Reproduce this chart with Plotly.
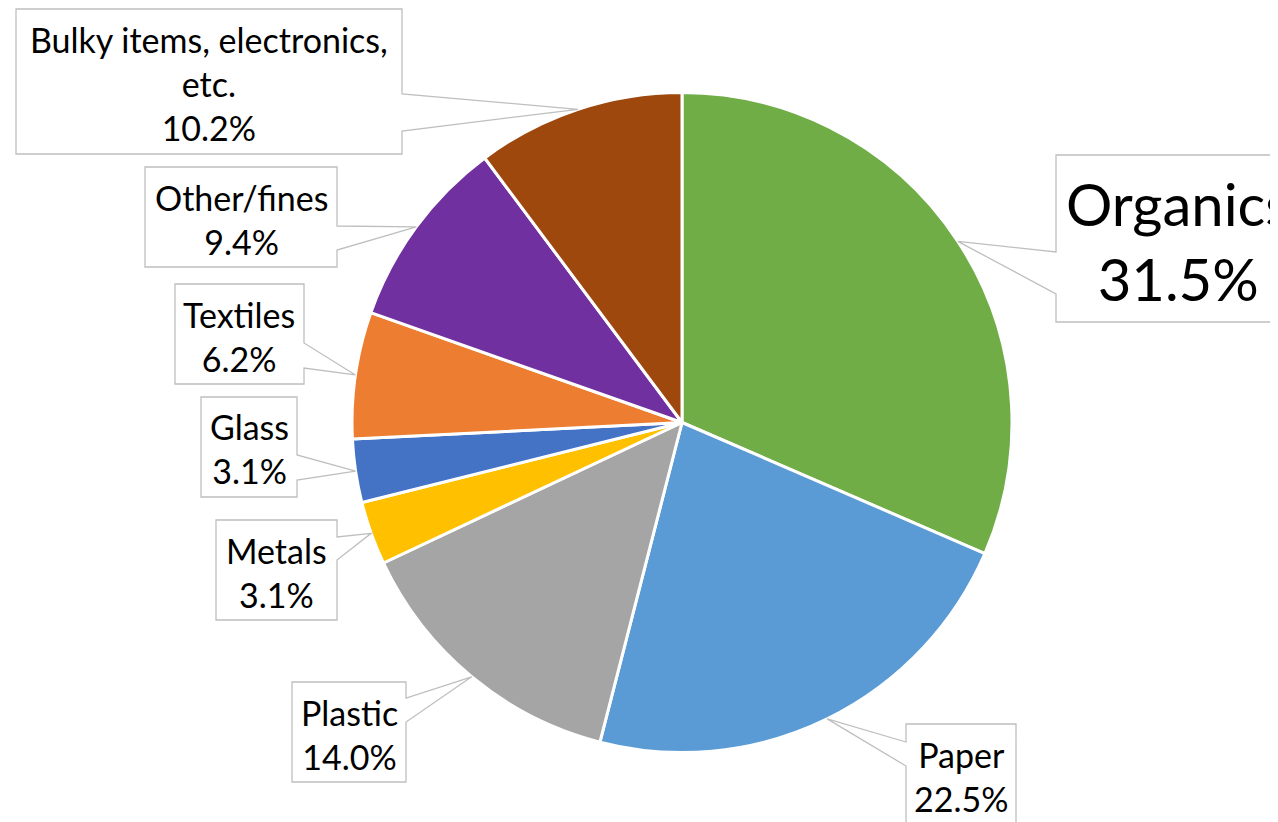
import math
import plotly.graph_objects as go

# ---- data ----
categories = ["Organics", "Paper", "Plastic", "Metals", "Glass", "Textiles", "Other/fines",
              "Bulky items, electronics, etc."]
label_names = ["Organics", "Paper", "Plastic", "Metals", "Glass", "Textiles", "Other/fines",
               "Bulky items, electronics,<br>etc."]
values = [31.5, 22.5, 14.0, 3.1, 3.1, 6.2, 9.4, 10.2]
colors = ["#70AD47", "#5B9BD5", "#A5A5A5", "#FFC000", "#4472C4", "#ED7D31", "#7030A0", "#9E480E"]

# ---- layout constants (pixels, in window coordinates) ----
WIN_W, WIN_H = 1278, 822
OFF = 8  # page body margin
W, H = WIN_W - OFF, WIN_H - OFF
CX, CY, R = 682, 422.5, 330

# callout boxes: (x0, y0, x1, y1), side of wedge, wedge base (a, b), font size
callouts = {
    "Organics": ((1056, 155, 1300, 322), "left", (252, 294), 58),
    "Paper": ((906, 724, 1016, 824), "left", (742, 766), 34),
    "Plastic": ((292, 682, 406, 782), "right", (698, 722), 34),
    "Metals": ((216, 520, 337, 620), "right", (537, 560), 34),
    "Glass": ((201, 397, 297, 497), "right", (455, 480), 34),
    "Textiles": ((175, 284, 304, 384), "right", (343, 368), 34),
    "Other/fines": ((145, 167, 337, 267), "right", (226, 250), 34),
    "Bulky items, electronics, etc.": ((16, 9, 402, 154), "right", (94, 131), 34),
}

def px(x):
    return (x - OFF) / W

def py(y):
    return 1 - (y - OFF) / H

fig = go.Figure(go.Pie(
    labels=categories,
    values=values,
    sort=False,
    direction="clockwise",
    rotation=0,
    marker=dict(colors=colors, line=dict(color="white", width=3)),
    textinfo="none",
    hoverinfo="label+percent",
    showlegend=False,
    domain=dict(x=[px(CX - R), px(CX + R)], y=[py(CY + R), py(CY - R)]),
))

shapes = []
annotations = []
total = sum(values)
cum = 0.0
for cat, name, v in zip(categories, label_names, values):
    mid = (cum + v / 2) / total * 2 * math.pi
    cum += v
    tx = CX + R * math.sin(mid)
    ty = CY - R * math.cos(mid)
    (x0, y0, x1, y1), side, (a, b), fs = callouts[cat]
    if side == "right":
        pts = [(x0, y0), (x1, y0), (x1, a), (tx, ty), (x1, b), (x1, y1), (x0, y1)]
    else:
        pts = [(x0, y0), (x1, y0), (x1, y1), (x0, y1), (x0, b), (tx, ty), (x0, a)]
    path = "M " + " L ".join(f"{px(x):.5f},{py(y):.5f}" for x, y in pts) + " Z"
    shapes.append(dict(type="path", path=path, xref="paper", yref="paper",
                       fillcolor="white", line=dict(color="#BFBFBF", width=1.3), layer="above"))
    annotations.append(dict(
        x=px((x0 + x1) / 2), y=py((y0 + y1) / 2 + 2), xref="paper", yref="paper",
        text=f"{name}<br>{v:.1f}%", showarrow=False, xanchor="center", yanchor="middle",
        align="center", font=dict(family="Lato", size=fs, color="black"),
    ))

fig.update_layout(
    width=W, height=H, autosize=False,
    margin=dict(l=0, r=0, t=0, b=0),
    paper_bgcolor="white", plot_bgcolor="white",
    shapes=shapes, annotations=annotations,
)

fig.write_html("out.html")
